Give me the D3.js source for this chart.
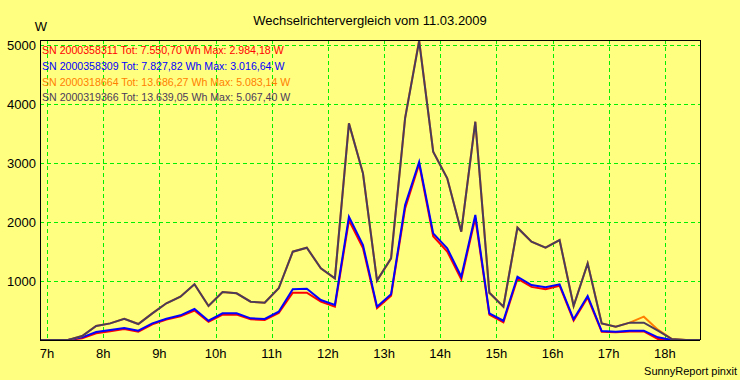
<!DOCTYPE html>
<html>
<head>
<meta charset="utf-8">
<script src="https://cdn.jsdelivr.net/npm/d3@7"></script>
<style>
  html, body { margin: 0; padding: 0; background: #FFFF80; }
  svg { display: block; }
  text { font-family: "Liberation Sans", Arial, sans-serif; }
</style>
</head>
<body>
<svg id="chart" width="740" height="380"></svg>
<script>
const title = "Wechselrichtervergleich vom 11.03.2009";
const yUnit = "W";
const footer = "SunnyReport pinxit";

const times = [
  "06:52:30","07:07:30","07:22:30","07:37:30","07:52:30","08:07:30","08:22:30","08:37:30",
  "08:52:30","09:07:30","09:22:30","09:37:30","09:52:30","10:07:30","10:22:30","10:37:30",
  "10:52:30","11:07:30","11:22:30","11:37:30","11:52:30","12:07:30","12:22:30","12:37:30",
  "12:52:30","13:07:30","13:22:30","13:37:30","13:52:30","14:07:30","14:22:30","14:37:30",
  "14:52:30","15:07:30","15:22:30","15:37:30","15:52:30","16:07:30","16:22:30","16:37:30",
  "16:52:30","17:07:30","17:22:30","17:37:30","17:52:30","18:07:30","18:22:30","18:37:30"
];

const seriesNames = [
  "SN 2000358311 Tot: 7.550,70 Wh Max: 2.984,18 W",
  "SN 2000358309 Tot: 7.827,82 Wh Max: 3.016,64 W",
  "SN 2000318664 Tot: 13.686,27 Wh Max: 5.083,14 W",
  "SN 2000319366 Tot: 13.639,05 Wh Max: 5.067,40 W"
];
const seriesColors = ["#FF0000", "#0000FF", "#FF8000", "#4B3B5B"];

const sn358311 = [0,0,0,30,115,150,185,140,265,345,400,500,310,430,430,350,340,460,802,802,650,565,
  2030,1560,540,750,2230,2984,1760,1500,1030,2070,430,300,1040,900,860,920,330,720,140,130,145,145,15,0,0,0];
const sn358309 = [0,0,0,45,136,169,203,158,282,361,418,525,327,452,452,367,356,480,859,870,678,593,
  2090,1610,565,774,2288,3017,1808,1554,1073,2119,452,327,1073,932,893,944,350,746,152,141,158,158,45,0,0,0];
const sn318664 = [0,0,0,68,237,282,361,271,452,622,734,944,576,814,791,650,633,876,1497,1565,1215,1045,
  3672,2825,1006,1384,3760,5083,3192,2740,1836,3700,802,565,1904,1667,1565,1695,576,1299,282,226,294,395,175,17,0,0];
const sn319366 = [0,0,0,68,237,282,361,271,452,622,734,944,576,814,791,650,633,876,1497,1565,1215,1045,
  3672,2825,1006,1384,3760,5067,3192,2740,1836,3700,802,565,1904,1667,1565,1695,576,1299,282,226,294,294,158,17,0,0];

const yTicks = [1000, 2000, 3000, 4000, 5000];
const xTickHours = [7,8,9,10,11,12,13,14,15,16,17,18];
const xTickLabels = ["7h","8h","9h","10h","11h","12h","13h","14h","15h","16h","17h","18h"];

const allSeries = [sn358311, sn358309, sn318664, sn319366];

const svg = d3.select("#chart");
const W = 740, H = 380;
const m = { left: 40, right: 40, top: 40, bottom: 40 };

svg.append("rect").attr("width", W).attr("height", H).attr("fill", "#FFFF80");

const toHours = s => { const [h, mi, se] = s.split(":").map(Number); return h + mi / 60 + se / 3600; };
const hours = times.map(toHours);

const x = d3.scaleLinear().domain([6.875, 18.625]).range([m.left, W - m.right]);
const y = d3.scaleLinear().domain([0, 5085]).range([H - m.bottom, m.top]);

// grid
const grid = svg.append("g").attr("stroke", "#00F000").attr("stroke-width", 1)
  .attr("stroke-dasharray", "4,3").attr("shape-rendering", "crispEdges");
grid.selectAll(".hg").data(yTicks).join("line")
  .attr("x1", x.range()[0]).attr("x2", x.range()[1])
  .attr("y1", d => Math.round(y(d)) + 0.5).attr("y2", d => Math.round(y(d)) + 0.5);
grid.selectAll(".vg").data(xTickHours).join("line")
  .attr("x1", d => Math.round(x(d)) + 0.5).attr("x2", d => Math.round(x(d)) + 0.5)
  .attr("y1", y.range()[1]).attr("y2", y.range()[0]);

// lines
const line = d3.line().x((d, i) => x(hours[i])).y(d => y(d));
svg.append("g").selectAll("path").data(allSeries).join("path")
  .attr("d", d => line(d))
  .attr("fill", "none")
  .attr("stroke", (d, i) => seriesColors[i])
  .attr("stroke-width", 2)
  .attr("stroke-linejoin", "miter");

// frame
const fr = svg.append("g").attr("stroke", "#000").attr("stroke-width", 1).attr("shape-rendering", "crispEdges");
const [x0, x1] = x.range(), [yb, yt] = y.range();
fr.append("line").attr("x1", x0 + 0.5).attr("x2", x0 + 0.5).attr("y1", yt).attr("y2", yb);
fr.append("line").attr("x1", x1 + 0.5).attr("x2", x1 + 0.5).attr("y1", yt).attr("y2", yb);
fr.append("line").attr("x1", x0).attr("x2", x1).attr("y1", yb + 0.5).attr("y2", yb + 0.5);
fr.append("line").attr("x1", x0).attr("x2", x1).attr("y1", yt + 0.5).attr("y2", yt + 0.5);

// y axis labels
svg.append("g").selectAll("text").data(yTicks).join("text")
  .attr("x", 36).attr("y", d => y(d) + 5)
  .attr("text-anchor", "end").attr("font-size", 13).attr("fill", "#000")
  .text(d => d);

// x axis labels
svg.append("g").selectAll("text").data(xTickHours).join("text")
  .attr("x", d => x(d)).attr("y", 358)
  .attr("text-anchor", "middle").attr("font-size", 13).attr("fill", "#000")
  .text((d, i) => xTickLabels[i]);

// legend
svg.append("g").selectAll("text").data(seriesNames).join("text")
  .attr("x", 42).attr("y", (d, i) => 54 + i * 15.8)
  .attr("font-size", 10.6).attr("fill", (d, i) => seriesColors[i])
  .text(d => d);

svg.append("text").attr("x", 370).attr("y", 25).attr("text-anchor", "middle")
  .attr("font-size", 13).attr("fill", "#000").text(title);
svg.append("text").attr("x", 41).attr("y", 31).attr("text-anchor", "middle")
  .attr("font-size", 13).attr("fill", "#000").text(yUnit);
svg.append("text").attr("x", 737).attr("y", 375).attr("text-anchor", "end")
  .attr("font-size", 11).attr("fill", "#000").text(footer);
</script>
</body>
</html>
